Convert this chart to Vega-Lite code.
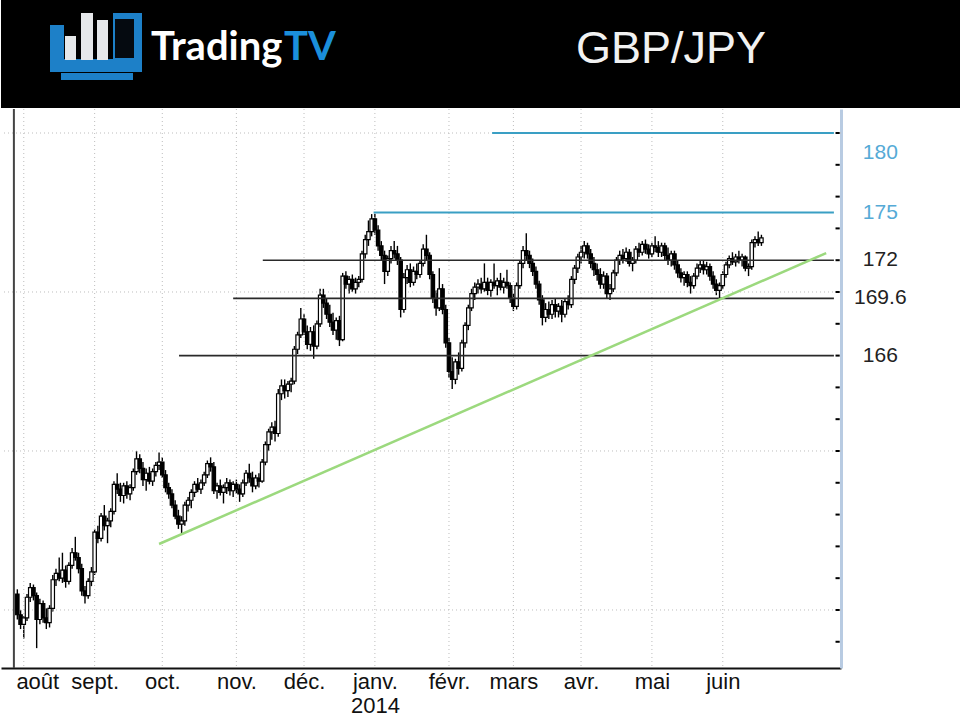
{
  "$schema": "https://vega.github.io/schema/vega-lite/v6.json",
  "padding": 0,
  "spacing": 0,
  "background": "white",
  "config": {"view": {"stroke": null}, "font": "Liberation Sans"},
  "datasets": {
    "logo": [
      {"part": "frame", "left": 49, "right": 63, "top": 25, "bottom": 61},
      {"part": "frame", "left": 49, "right": 141, "top": 59, "bottom": 72},
      {"part": "frame", "left": 112, "right": 141, "top": 13, "bottom": 72},
      {"part": "frame", "left": 60, "right": 132, "top": 73, "bottom": 80},
      {"part": "screen", "left": 114, "right": 133, "top": 19, "bottom": 58},
      {"part": "bar", "left": 64, "right": 75, "top": 36, "bottom": 60},
      {"part": "bar", "left": 80, "right": 92, "top": 13, "bottom": 60},
      {"part": "bar", "left": 96, "right": 107, "top": 20, "bottom": 60}
    ],
    "grid": [{"g": 150}, {"g": 160}, {"g": 170}, {"g": 180}],
    "yticks": [{"v": 148}, {"v": 150}, {"v": 152}, {"v": 154}, {"v": 156}, {"v": 158}, {"v": 160}, {"v": 162}, {"v": 164}, {"v": 166}, {"v": 168}, {"v": 170}, {"v": 172}, {"v": 174}, {"v": 176}, {"v": 178}, {"v": 180}],
    "months": [{"start": 2}, {"start": 24}, {"start": 45}, {"start": 68}, {"start": 89}, {"start": 111}, {"start": 134}, {"start": 154}, {"start": 175}, {"start": 197}, {"start": 219}],
    "levels": [
      {"level": 180, "from": 147.4, "kind": "target", "label": "180"},
      {"level": 175, "from": 110.6, "kind": "target", "label": "175"},
      {"level": 172, "from": 76.2, "kind": "range", "label": "172"},
      {"level": 169.6, "from": 67.0, "kind": "range", "label": "169.6"},
      {"level": 166, "from": 50.2, "kind": "range", "label": "166"}
    ],
    "trend": [{"i": 44.0, "v": 154.15}, {"i": 251.1, "v": 172.45}],
    "candles": [
      {"i":0,"o":151.0,"h":151.3,"l":149.4,"c":149.7},
      {"i":1,"o":149.7,"h":150.0,"l":148.8,"c":149.1},
      {"i":2,"o":149.1,"h":149.6,"l":148.2,"c":149.5},
      {"i":3,"o":149.5,"h":151.0,"l":149.3,"c":150.8},
      {"i":4,"o":150.8,"h":151.7,"l":150.5,"c":151.4},
      {"i":5,"o":151.4,"h":151.6,"l":150.6,"c":150.9},
      {"i":6,"o":150.9,"h":151.1,"l":147.6,"c":149.4},
      {"i":7,"o":149.4,"h":150.7,"l":149.1,"c":150.4},
      {"i":8,"o":150.4,"h":150.6,"l":149.2,"c":149.5},
      {"i":9,"o":149.5,"h":150.1,"l":148.8,"c":149.2},
      {"i":10,"o":149.2,"h":150.3,"l":148.9,"c":150.1},
      {"i":11,"o":150.1,"h":152.2,"l":149.9,"c":151.9},
      {"i":12,"o":151.9,"h":152.6,"l":151.5,"c":152.3},
      {"i":13,"o":152.3,"h":153.3,"l":151.8,"c":152.0},
      {"i":14,"o":152.0,"h":153.6,"l":151.7,"c":152.5},
      {"i":15,"o":152.5,"h":152.8,"l":151.4,"c":151.8},
      {"i":16,"o":151.8,"h":153.0,"l":151.6,"c":152.8},
      {"i":17,"o":152.8,"h":153.9,"l":152.6,"c":153.6},
      {"i":18,"o":153.6,"h":154.6,"l":153.1,"c":153.3},
      {"i":19,"o":153.3,"h":153.6,"l":152.3,"c":152.6},
      {"i":20,"o":152.6,"h":152.9,"l":150.9,"c":151.2},
      {"i":21,"o":151.2,"h":151.5,"l":150.4,"c":150.9},
      {"i":22,"o":150.9,"h":152.0,"l":150.7,"c":151.8},
      {"i":23,"o":151.8,"h":152.7,"l":151.5,"c":152.4},
      {"i":24,"o":152.4,"h":155.1,"l":152.2,"c":154.9},
      {"i":25,"o":154.9,"h":155.3,"l":154.2,"c":154.5},
      {"i":26,"o":154.5,"h":156.1,"l":154.3,"c":155.9},
      {"i":27,"o":155.9,"h":156.6,"l":155.0,"c":155.3},
      {"i":28,"o":155.3,"h":155.8,"l":154.2,"c":155.6},
      {"i":29,"o":155.6,"h":156.4,"l":155.2,"c":156.2},
      {"i":30,"o":156.2,"h":158.1,"l":156.0,"c":157.9},
      {"i":31,"o":157.9,"h":158.6,"l":157.3,"c":157.6},
      {"i":32,"o":157.6,"h":158.0,"l":156.8,"c":157.2},
      {"i":33,"o":157.2,"h":158.0,"l":156.7,"c":157.8},
      {"i":34,"o":157.8,"h":158.1,"l":157.0,"c":157.3},
      {"i":35,"o":157.3,"h":157.9,"l":156.9,"c":157.7},
      {"i":36,"o":157.7,"h":158.9,"l":157.5,"c":158.7},
      {"i":37,"o":158.7,"h":160.0,"l":158.5,"c":159.5},
      {"i":38,"o":159.5,"h":159.8,"l":158.6,"c":158.9},
      {"i":39,"o":158.9,"h":159.3,"l":157.8,"c":158.2},
      {"i":40,"o":158.2,"h":158.9,"l":157.5,"c":158.6},
      {"i":41,"o":158.6,"h":159.0,"l":157.9,"c":158.1},
      {"i":42,"o":158.1,"h":158.9,"l":157.8,"c":158.7},
      {"i":43,"o":158.7,"h":159.3,"l":158.4,"c":159.1},
      {"i":44,"o":159.1,"h":159.9,"l":158.8,"c":159.3},
      {"i":45,"o":159.3,"h":159.6,"l":158.3,"c":158.5},
      {"i":46,"o":158.5,"h":158.8,"l":157.4,"c":157.7},
      {"i":47,"o":157.7,"h":158.0,"l":157.0,"c":157.3},
      {"i":48,"o":157.3,"h":157.6,"l":156.4,"c":156.6},
      {"i":49,"o":156.6,"h":156.9,"l":155.7,"c":155.9},
      {"i":50,"o":155.9,"h":156.3,"l":155.1,"c":155.4},
      {"i":51,"o":155.4,"h":155.9,"l":154.8,"c":155.6},
      {"i":52,"o":155.6,"h":156.8,"l":155.3,"c":156.6},
      {"i":53,"o":156.6,"h":157.1,"l":156.2,"c":156.9},
      {"i":54,"o":156.9,"h":157.6,"l":156.4,"c":157.4},
      {"i":55,"o":157.4,"h":158.1,"l":157.1,"c":157.9},
      {"i":56,"o":157.9,"h":158.3,"l":157.4,"c":157.6},
      {"i":57,"o":157.6,"h":158.2,"l":157.3,"c":158.0},
      {"i":58,"o":158.0,"h":158.7,"l":157.8,"c":158.5},
      {"i":59,"o":158.5,"h":159.4,"l":158.3,"c":159.2},
      {"i":60,"o":159.2,"h":159.6,"l":158.7,"c":159.0},
      {"i":61,"o":159.0,"h":159.3,"l":157.3,"c":157.5},
      {"i":62,"o":157.5,"h":158.0,"l":157.0,"c":157.8},
      {"i":63,"o":157.8,"h":158.2,"l":157.2,"c":157.4},
      {"i":64,"o":157.4,"h":157.9,"l":156.7,"c":157.7},
      {"i":65,"o":157.7,"h":158.3,"l":157.3,"c":158.0},
      {"i":66,"o":158.0,"h":158.2,"l":157.2,"c":157.5},
      {"i":67,"o":157.5,"h":158.1,"l":157.1,"c":157.9},
      {"i":68,"o":157.9,"h":158.2,"l":157.3,"c":157.6},
      {"i":69,"o":157.6,"h":157.9,"l":156.8,"c":157.3},
      {"i":70,"o":157.3,"h":158.2,"l":157.1,"c":158.0},
      {"i":71,"o":158.0,"h":158.8,"l":157.8,"c":158.6},
      {"i":72,"o":158.6,"h":159.2,"l":158.0,"c":158.3},
      {"i":73,"o":158.3,"h":158.7,"l":157.4,"c":157.8},
      {"i":74,"o":157.8,"h":158.5,"l":157.6,"c":158.3},
      {"i":75,"o":158.3,"h":158.6,"l":157.7,"c":158.1},
      {"i":76,"o":158.1,"h":159.5,"l":158.0,"c":159.3},
      {"i":77,"o":159.3,"h":160.6,"l":159.1,"c":160.4},
      {"i":78,"o":160.4,"h":161.4,"l":160.0,"c":161.2},
      {"i":79,"o":161.2,"h":161.8,"l":160.7,"c":161.5},
      {"i":80,"o":161.5,"h":161.9,"l":160.6,"c":161.1},
      {"i":81,"o":161.1,"h":163.9,"l":160.9,"c":163.6},
      {"i":82,"o":163.6,"h":164.5,"l":163.2,"c":164.1},
      {"i":83,"o":164.1,"h":164.5,"l":163.3,"c":163.8},
      {"i":84,"o":163.8,"h":164.4,"l":163.4,"c":164.2},
      {"i":85,"o":164.2,"h":164.6,"l":163.7,"c":164.4},
      {"i":86,"o":164.4,"h":166.6,"l":164.2,"c":166.4},
      {"i":87,"o":166.4,"h":167.5,"l":166.1,"c":167.3},
      {"i":88,"o":167.3,"h":169.0,"l":167.1,"c":168.3},
      {"i":89,"o":168.3,"h":168.6,"l":167.3,"c":167.5},
      {"i":90,"o":167.5,"h":167.9,"l":166.4,"c":166.7},
      {"i":91,"o":166.7,"h":167.8,"l":166.3,"c":167.5},
      {"i":92,"o":167.5,"h":167.9,"l":165.8,"c":166.6},
      {"i":93,"o":166.6,"h":168.2,"l":166.4,"c":168.0},
      {"i":94,"o":168.0,"h":170.2,"l":167.8,"c":169.8},
      {"i":95,"o":169.8,"h":170.2,"l":169.0,"c":169.3},
      {"i":96,"o":169.3,"h":169.6,"l":168.3,"c":168.6},
      {"i":97,"o":168.6,"h":169.2,"l":167.8,"c":168.1},
      {"i":98,"o":168.1,"h":168.7,"l":167.3,"c":167.6},
      {"i":99,"o":167.6,"h":168.4,"l":167.0,"c":168.2},
      {"i":100,"o":168.2,"h":168.5,"l":166.6,"c":167.0},
      {"i":101,"o":167.0,"h":171.2,"l":166.9,"c":171.0},
      {"i":102,"o":171.0,"h":171.3,"l":170.2,"c":170.5},
      {"i":103,"o":170.5,"h":171.0,"l":169.9,"c":170.8},
      {"i":104,"o":170.8,"h":171.1,"l":170.0,"c":170.2},
      {"i":105,"o":170.2,"h":170.9,"l":169.9,"c":170.6},
      {"i":106,"o":170.6,"h":171.0,"l":170.3,"c":170.8},
      {"i":107,"o":170.8,"h":172.6,"l":170.6,"c":172.4},
      {"i":108,"o":172.4,"h":173.6,"l":172.1,"c":173.3},
      {"i":109,"o":173.3,"h":174.5,"l":172.9,"c":173.8},
      {"i":110,"o":173.8,"h":174.9,"l":173.5,"c":174.6},
      {"i":111,"o":174.6,"h":174.9,"l":173.6,"c":173.9},
      {"i":112,"o":173.9,"h":174.2,"l":172.6,"c":172.9},
      {"i":113,"o":172.9,"h":173.2,"l":172.0,"c":172.3},
      {"i":114,"o":172.3,"h":172.6,"l":170.5,"c":171.3},
      {"i":115,"o":171.3,"h":172.3,"l":171.0,"c":172.1},
      {"i":116,"o":172.1,"h":172.9,"l":171.8,"c":172.6},
      {"i":117,"o":172.6,"h":173.2,"l":172.1,"c":172.4},
      {"i":118,"o":172.4,"h":172.9,"l":171.7,"c":172.0},
      {"i":119,"o":172.0,"h":172.2,"l":168.4,"c":168.9},
      {"i":120,"o":168.9,"h":171.2,"l":168.7,"c":170.9},
      {"i":121,"o":170.9,"h":171.7,"l":170.5,"c":171.4},
      {"i":122,"o":171.4,"h":171.8,"l":170.3,"c":170.6},
      {"i":123,"o":170.6,"h":171.6,"l":170.4,"c":171.3},
      {"i":124,"o":171.3,"h":171.8,"l":170.8,"c":171.1},
      {"i":125,"o":171.1,"h":172.0,"l":170.9,"c":171.8},
      {"i":126,"o":171.8,"h":173.0,"l":171.6,"c":172.7},
      {"i":127,"o":172.7,"h":173.6,"l":172.0,"c":172.3},
      {"i":128,"o":172.3,"h":172.5,"l":170.8,"c":171.1},
      {"i":129,"o":171.1,"h":171.3,"l":169.3,"c":169.6},
      {"i":130,"o":169.6,"h":170.1,"l":168.5,"c":169.0},
      {"i":131,"o":169.0,"h":171.5,"l":168.8,"c":170.2},
      {"i":132,"o":170.2,"h":170.5,"l":168.6,"c":168.9},
      {"i":133,"o":168.9,"h":169.2,"l":166.5,"c":166.8},
      {"i":134,"o":166.8,"h":167.1,"l":164.6,"c":165.0},
      {"i":135,"o":165.0,"h":165.9,"l":163.9,"c":164.5},
      {"i":136,"o":164.5,"h":165.8,"l":164.2,"c":165.6},
      {"i":137,"o":165.6,"h":166.2,"l":164.8,"c":165.2},
      {"i":138,"o":165.2,"h":167.0,"l":165.0,"c":166.8},
      {"i":139,"o":166.8,"h":168.1,"l":166.5,"c":167.9},
      {"i":140,"o":167.9,"h":169.2,"l":167.6,"c":169.0},
      {"i":141,"o":169.0,"h":170.2,"l":168.8,"c":169.9},
      {"i":142,"o":169.9,"h":170.6,"l":169.5,"c":170.3},
      {"i":143,"o":170.3,"h":170.8,"l":169.9,"c":170.5},
      {"i":144,"o":170.5,"h":170.9,"l":169.9,"c":170.2},
      {"i":145,"o":170.2,"h":171.8,"l":170.0,"c":170.6},
      {"i":146,"o":170.6,"h":170.9,"l":169.8,"c":170.1},
      {"i":147,"o":170.1,"h":170.8,"l":169.7,"c":170.6},
      {"i":148,"o":170.6,"h":171.8,"l":170.2,"c":170.4},
      {"i":149,"o":170.4,"h":170.9,"l":169.8,"c":170.7},
      {"i":150,"o":170.7,"h":171.2,"l":170.1,"c":170.3},
      {"i":151,"o":170.3,"h":170.9,"l":169.9,"c":170.6},
      {"i":152,"o":170.6,"h":171.4,"l":170.2,"c":170.4},
      {"i":153,"o":170.4,"h":170.6,"l":169.3,"c":169.6},
      {"i":154,"o":169.6,"h":169.9,"l":168.8,"c":169.1},
      {"i":155,"o":169.1,"h":170.6,"l":168.9,"c":170.4},
      {"i":156,"o":170.4,"h":172.0,"l":170.2,"c":171.8},
      {"i":157,"o":171.8,"h":172.9,"l":171.5,"c":172.6},
      {"i":158,"o":172.6,"h":173.7,"l":172.0,"c":172.3},
      {"i":159,"o":172.3,"h":172.6,"l":171.5,"c":171.8},
      {"i":160,"o":171.8,"h":172.1,"l":171.0,"c":171.3},
      {"i":161,"o":171.3,"h":171.6,"l":170.2,"c":170.5},
      {"i":162,"o":170.5,"h":170.7,"l":169.2,"c":169.5},
      {"i":163,"o":169.5,"h":169.8,"l":167.9,"c":168.4},
      {"i":164,"o":168.4,"h":169.3,"l":168.1,"c":168.9},
      {"i":165,"o":168.9,"h":169.4,"l":168.3,"c":168.6},
      {"i":166,"o":168.6,"h":169.5,"l":168.3,"c":169.2},
      {"i":167,"o":169.2,"h":169.6,"l":168.4,"c":168.8},
      {"i":168,"o":168.8,"h":169.3,"l":168.4,"c":169.1},
      {"i":169,"o":169.1,"h":169.5,"l":168.1,"c":168.6},
      {"i":170,"o":168.6,"h":169.6,"l":168.4,"c":169.4},
      {"i":171,"o":169.4,"h":169.8,"l":168.9,"c":169.2},
      {"i":172,"o":169.2,"h":171.0,"l":169.0,"c":170.8},
      {"i":173,"o":170.8,"h":171.7,"l":170.5,"c":171.5},
      {"i":174,"o":171.5,"h":172.4,"l":171.2,"c":172.2},
      {"i":175,"o":172.2,"h":172.9,"l":171.8,"c":172.5},
      {"i":176,"o":172.5,"h":173.2,"l":172.1,"c":172.9},
      {"i":177,"o":172.9,"h":173.1,"l":172.1,"c":172.4},
      {"i":178,"o":172.4,"h":172.7,"l":171.5,"c":171.8},
      {"i":179,"o":171.8,"h":172.2,"l":171.0,"c":171.4},
      {"i":180,"o":171.4,"h":171.8,"l":170.7,"c":171.1},
      {"i":181,"o":171.1,"h":171.5,"l":170.2,"c":170.5},
      {"i":182,"o":170.5,"h":171.3,"l":170.2,"c":171.0},
      {"i":183,"o":171.0,"h":171.2,"l":169.6,"c":169.9},
      {"i":184,"o":169.9,"h":170.5,"l":169.5,"c":170.2},
      {"i":185,"o":170.2,"h":171.4,"l":170.0,"c":171.2},
      {"i":186,"o":171.2,"h":172.2,"l":171.0,"c":172.0},
      {"i":187,"o":172.0,"h":172.6,"l":171.7,"c":172.3},
      {"i":188,"o":172.3,"h":172.7,"l":171.8,"c":172.1},
      {"i":189,"o":172.1,"h":172.8,"l":171.9,"c":172.5},
      {"i":190,"o":172.5,"h":172.7,"l":171.6,"c":171.8},
      {"i":191,"o":171.8,"h":172.2,"l":171.3,"c":172.0},
      {"i":192,"o":172.0,"h":172.9,"l":171.8,"c":172.7},
      {"i":193,"o":172.7,"h":173.1,"l":172.2,"c":172.5},
      {"i":194,"o":172.5,"h":173.2,"l":172.3,"c":173.0},
      {"i":195,"o":173.0,"h":173.3,"l":172.4,"c":172.7},
      {"i":196,"o":172.7,"h":173.0,"l":172.1,"c":172.4},
      {"i":197,"o":172.4,"h":173.1,"l":172.2,"c":172.9},
      {"i":198,"o":172.9,"h":173.5,"l":172.5,"c":172.8},
      {"i":199,"o":172.8,"h":173.2,"l":172.2,"c":172.5},
      {"i":200,"o":172.5,"h":173.1,"l":172.2,"c":172.9},
      {"i":201,"o":172.9,"h":173.1,"l":172.0,"c":172.3},
      {"i":202,"o":172.3,"h":172.8,"l":171.7,"c":172.0},
      {"i":203,"o":172.0,"h":172.6,"l":171.6,"c":172.4},
      {"i":204,"o":172.4,"h":172.6,"l":171.4,"c":171.7},
      {"i":205,"o":171.7,"h":172.0,"l":170.9,"c":171.2},
      {"i":206,"o":171.2,"h":171.5,"l":170.6,"c":170.9},
      {"i":207,"o":170.9,"h":171.3,"l":170.4,"c":171.1},
      {"i":208,"o":171.1,"h":171.3,"l":170.3,"c":170.6},
      {"i":209,"o":170.6,"h":171.0,"l":169.9,"c":170.4},
      {"i":210,"o":170.4,"h":171.2,"l":170.2,"c":171.0},
      {"i":211,"o":171.0,"h":171.8,"l":170.8,"c":171.5},
      {"i":212,"o":171.5,"h":172.0,"l":171.2,"c":171.7},
      {"i":213,"o":171.7,"h":172.0,"l":171.1,"c":171.4},
      {"i":214,"o":171.4,"h":171.9,"l":171.1,"c":171.6},
      {"i":215,"o":171.6,"h":171.8,"l":170.7,"c":171.0},
      {"i":216,"o":171.0,"h":171.3,"l":170.2,"c":170.5},
      {"i":217,"o":170.5,"h":170.8,"l":169.8,"c":170.1},
      {"i":218,"o":170.1,"h":170.6,"l":169.6,"c":170.4},
      {"i":219,"o":170.4,"h":171.3,"l":170.2,"c":171.1},
      {"i":220,"o":171.1,"h":171.9,"l":170.9,"c":171.7},
      {"i":221,"o":171.7,"h":172.3,"l":171.5,"c":172.1},
      {"i":222,"o":172.1,"h":172.5,"l":171.7,"c":171.9},
      {"i":223,"o":171.9,"h":172.4,"l":171.6,"c":172.2},
      {"i":224,"o":172.2,"h":172.6,"l":171.8,"c":172.0},
      {"i":225,"o":172.0,"h":172.4,"l":171.6,"c":172.2},
      {"i":226,"o":172.2,"h":172.3,"l":171.3,"c":171.5},
      {"i":227,"o":171.5,"h":171.8,"l":171.0,"c":171.6},
      {"i":228,"o":171.6,"h":173.3,"l":171.4,"c":173.1},
      {"i":229,"o":173.1,"h":173.5,"l":172.8,"c":173.3},
      {"i":230,"o":173.3,"h":173.8,"l":172.9,"c":173.1},
      {"i":231,"o":173.1,"h":173.6,"l":172.9,"c":173.4}
    ]
  },
  "vconcat": [
    {
      "width": 960,
      "height": 108,
      "view": {"fill": "#000000", "stroke": null},
      "layer": [
        {
          "data": {"name": "logo"},
          "mark": {"type": "rect"},
          "encoding": {
            "x": {"field": "left", "type": "quantitative", "scale": {"domain": [0, 960], "nice": false, "zero": false}, "axis": null},
            "x2": {"field": "right"},
            "y": {"field": "top", "type": "quantitative", "scale": {"domain": [0, 108], "nice": false, "zero": false, "reverse": true}, "axis": null},
            "y2": {"field": "bottom"},
            "color": {"field": "part", "type": "nominal", "scale": {"domain": ["frame", "screen", "bar"], "range": ["#1d80c8", "#050a10", "#e6e8ea"]}, "legend": null}
          }
        },
        {
          "data": {"values": [{"t": "Trading"}]},
          "mark": {"type": "text", "align": "left", "baseline": "alphabetic", "font": "Lato", "fontSize": 40, "fontWeight": "bold", "color": "#ffffff"},
          "encoding": {
            "x": {"datum": 150, "type": "quantitative", "scale": {"domain": [0, 960], "nice": false, "zero": false}, "axis": null},
            "y": {"datum": 60, "type": "quantitative", "scale": {"domain": [0, 108], "nice": false, "zero": false, "reverse": true}, "axis": null},
            "text": {"field": "t"}
          }
        },
        {
          "data": {"values": [{"t": "TV"}]},
          "mark": {"type": "text", "align": "left", "baseline": "alphabetic", "font": "Lato", "fontSize": 40, "fontWeight": "bold", "color": "#1b8fdb"},
          "encoding": {
            "x": {"datum": 283, "type": "quantitative", "scale": {"domain": [0, 960], "nice": false, "zero": false}, "axis": null},
            "y": {"datum": 60, "type": "quantitative", "scale": {"domain": [0, 108], "nice": false, "zero": false, "reverse": true}, "axis": null},
            "text": {"field": "t"}
          }
        },
        {
          "data": {"values": [{"t": "GBP/JPY"}]},
          "mark": {"type": "text", "align": "center", "baseline": "alphabetic", "font": "Liberation Sans", "fontSize": 45, "color": "#f2f2f2"},
          "encoding": {
            "x": {"datum": 670, "type": "quantitative", "scale": {"domain": [0, 960], "nice": false, "zero": false}, "axis": null},
            "y": {"datum": 63, "type": "quantitative", "scale": {"domain": [0, 108], "nice": false, "zero": false, "reverse": true}, "axis": null},
            "text": {"field": "t"}
          }
        }
      ]
    },
    {
      "width": 840,
      "height": 559,
      "layer": [
        {
          "data": {"name": "candles"},
          "mark": {"type": "rule", "color": "#000000", "strokeWidth": 1.4},
          "encoding": {
            "x": {
              "field": "i", "type": "quantitative",
              "scale": {"domain": [-3.52, 254.15], "nice": false, "zero": false},
              "axis": {
                "orient": "bottom",
                "title": null,
                "values": [-0.45, 24, 45, 68, 89, 111, 134, 154, 175, 197, 219],
                "labelExpr": "datum.value < 1 ? 'août' : datum.value == 24 ? 'sept.' : datum.value == 45 ? 'oct.' : datum.value == 68 ? 'nov.' : datum.value == 89 ? 'déc.' : datum.value == 111 ? ['janv.', '2014'] : datum.value == 134 ? 'févr.' : datum.value == 154 ? 'mars' : datum.value == 175 ? 'avr.' : datum.value == 197 ? 'mai' : 'juin'",
                "labelFont": "Liberation Sans",
                "labelFontSize": 22,
                "labelColor": "#111111",
                "labelPadding": 3,
                "labelLineHeight": 24,
                "labelBaseline": "top",
                "labelFlush": false,
                "labelOverlap": false,
                "labelBound": false,
                "labelAlign": {"condition": {"test": "datum.value < 1", "value": "left"}, "value": "center"},
                "ticks": false,
                "domainColor": "#111111",
                "domainWidth": 2,
                "grid": false
              }
            },
            "y": {
              "field": "l", "type": "quantitative",
              "scale": {"domain": [146.35, 181.51], "nice": false, "zero": false},
              "axis": {
                "orient": "right",
                "title": null,
                "labels": false,
                "ticks": false,
                "domainColor": "#b8cbe2",
                "domainWidth": 3,
                "grid": false
              }
            },
            "y2": {"field": "h"}
          }
        },
        {
          "data": {"name": "grid"},
          "mark": {"type": "rule", "color": "#bdbdbd", "strokeWidth": 1, "strokeDash": [1, 3]},
          "encoding": {
            "y": {"field": "g", "type": "quantitative", "scale": {"domain": [146.35, 181.51], "nice": false, "zero": false}}
          }
        },
        {
          "data": {"name": "months"},
          "mark": {"type": "rule", "color": "#bdbdbd", "strokeWidth": 1, "strokeDash": [1, 3]},
          "encoding": {
            "x": {"field": "start", "type": "quantitative", "scale": {"domain": [-3.52, 254.15], "nice": false, "zero": false}}
          }
        },
        {
          "data": {"name": "yticks"},
          "mark": {"type": "rule", "color": "#000000", "strokeWidth": 2},
          "encoding": {
            "x": {"datum": 254.0, "type": "quantitative", "scale": {"domain": [-3.52, 254.15], "nice": false, "zero": false}},
            "x2": {"datum": 255.3},
            "y": {"field": "v", "type": "quantitative", "scale": {"domain": [146.35, 181.51], "nice": false, "zero": false}}
          }
        },
        {
          "data": {"name": "candles"},
          "mark": {"type": "bar", "width": 3.4, "stroke": "#000000", "strokeWidth": 1.2},
          "encoding": {
            "x": {"field": "i", "type": "quantitative", "scale": {"domain": [-3.52, 254.15], "nice": false, "zero": false}},
            "y": {"field": "o", "type": "quantitative", "scale": {"domain": [146.35, 181.51], "nice": false, "zero": false}},
            "y2": {"field": "c"},
            "fill": {"condition": {"test": "datum.c < datum.o", "value": "#000000"}, "value": "#ffffff"}
          }
        },
        {
          "data": {"name": "levels"},
          "mark": {"type": "rule"},
          "encoding": {
            "x": {"field": "from", "type": "quantitative", "scale": {"domain": [-3.52, 254.15], "nice": false, "zero": false}},
            "x2": {"datum": 253.5},
            "y": {"field": "level", "type": "quantitative", "scale": {"domain": [146.35, 181.51], "nice": false, "zero": false}},
            "color": {"condition": {"test": "datum.kind == 'target'", "value": "#3a9fc4"}, "value": "#2a2a2a"},
            "strokeWidth": {"condition": {"test": "datum.kind == 'target'", "value": 2}, "value": 1.6}
          }
        },
        {
          "data": {"name": "trend"},
          "mark": {"type": "line", "color": "#9cd97e", "strokeWidth": 2.5},
          "encoding": {
            "x": {"field": "i", "type": "quantitative", "scale": {"domain": [-3.52, 254.15], "nice": false, "zero": false}},
            "y": {"field": "v", "type": "quantitative", "scale": {"domain": [146.35, 181.51], "nice": false, "zero": false}}
          }
        },
        {
          "data": {"values": [{"edge": "left"}]},
          "mark": {"type": "rule", "color": "#444444", "strokeWidth": 2},
          "encoding": {
            "x": {"datum": -1.07, "type": "quantitative", "scale": {"domain": [-3.52, 254.15], "nice": false, "zero": false}}
          }
        },
        {
          "data": {"name": "levels"},
          "transform": [{"filter": "datum.level != 180"}],
          "mark": {"type": "text", "align": "center", "baseline": "middle", "font": "Liberation Sans", "fontSize": 21},
          "encoding": {
            "x": {"datum": 267.9, "type": "quantitative", "scale": {"domain": [-3.52, 254.15], "nice": false, "zero": false}},
            "y": {"field": "level", "type": "quantitative", "scale": {"domain": [146.35, 181.51], "nice": false, "zero": false}},
            "text": {"field": "label"},
            "color": {"condition": {"test": "datum.kind == 'target'", "value": "#55aad6"}, "value": "#222222"}
          }
        },
        {
          "data": {"name": "levels"},
          "transform": [{"filter": "datum.level == 180"}],
          "mark": {"type": "text", "align": "center", "baseline": "middle", "font": "Liberation Sans", "fontSize": 21, "dy": 20, "color": "#55aad6"},
          "encoding": {
            "x": {"datum": 267.9, "type": "quantitative", "scale": {"domain": [-3.52, 254.15], "nice": false, "zero": false}},
            "y": {"field": "level", "type": "quantitative", "scale": {"domain": [146.35, 181.51], "nice": false, "zero": false}},
            "text": {"field": "label"}
          }
        }
      ]
    }
  ]
}
